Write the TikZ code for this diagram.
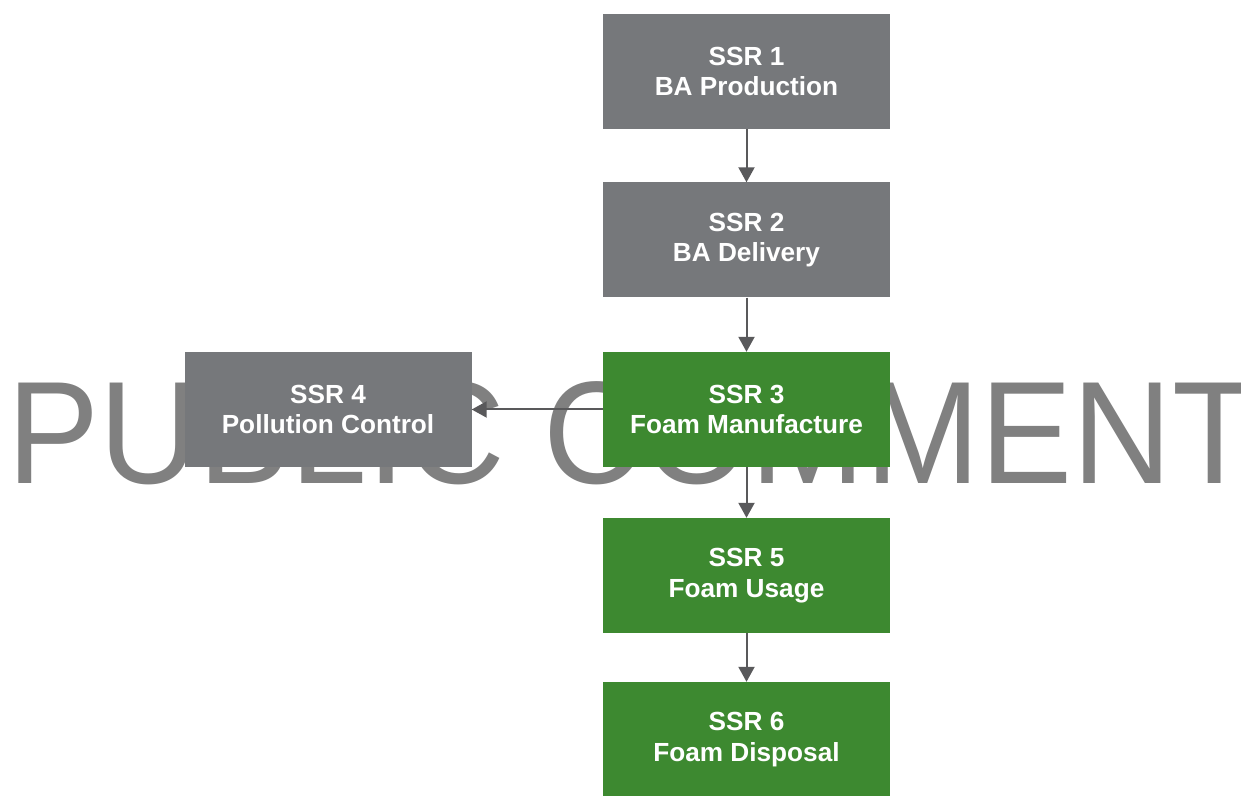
\documentclass[tikz,border=0pt]{standalone}
\usepackage{fontspec}
\setmainfont{Liberation Sans}
\usepackage{xcolor}
\usetikzlibrary{arrows.meta}
\definecolor{ssrgray}{RGB}{118,120,123}
\definecolor{ssrgreen}{RGB}{61,137,48}
\definecolor{linkgray}{RGB}{89,89,91}
\definecolor{markgray}{RGB}{128,128,128}
\newcommand{\ssrbox}[2]{\textbf{SSR #1}\\\textbf{#2}}

\begin{document}
\begin{tikzpicture}[x=1pt,y=1pt]
\tikzstyle{every node}=[inner sep=0pt]
\tikzstyle{ssrnode}=[minimum width=287pt,minimum height=115pt,align=center,text=white,font=\fontsize{26.2}{30.7}\selectfont]
\tikzstyle{link}=[draw=linkgray,line width=2pt,-{Triangle[width=16pt,length=15pt]}]
\clip (0,0) rectangle (1241,795);
\fill[white] (0,0) rectangle (1241,795);
% watermark behind the boxes
\node[anchor=base west,text=markgray,xscale=0.945,font=\fontsize{146}{146}\selectfont] (mark) at (7,311) {PUBLIC COMMENT};
% boxes
\node[ssrnode,fill=ssrgray] (s1) at (746.5,723.5) {\ssrbox{1}{BA Production}};
\node[ssrnode,fill=ssrgray] (s2) at (746.5,555) {\ssrbox{2}{BA Delivery}};
\node[ssrnode,fill=ssrgreen] (s3) at (746.5,385.5) {\ssrbox{3}{Foam Manufacture}};
\node[ssrnode,fill=ssrgray] (s4) at (328,385.5) {\ssrbox{4}{Pollution Control}};
\node[ssrnode,fill=ssrgreen] (s5) at (746.5,219.5) {\ssrbox{5}{Foam Usage}};
\node[ssrnode,fill=ssrgreen] (s6) at (746.5,55.5) {\ssrbox{6}{Foam Disposal}};
% connectors
\path (s1) edge[link] (s2);
\path (s2) edge[link] (s3);
\path (s3) edge[link] (s4);
\path (s3) edge[link] (s5);
\path (s5) edge[link] (s6);
\end{tikzpicture}
\end{document}
